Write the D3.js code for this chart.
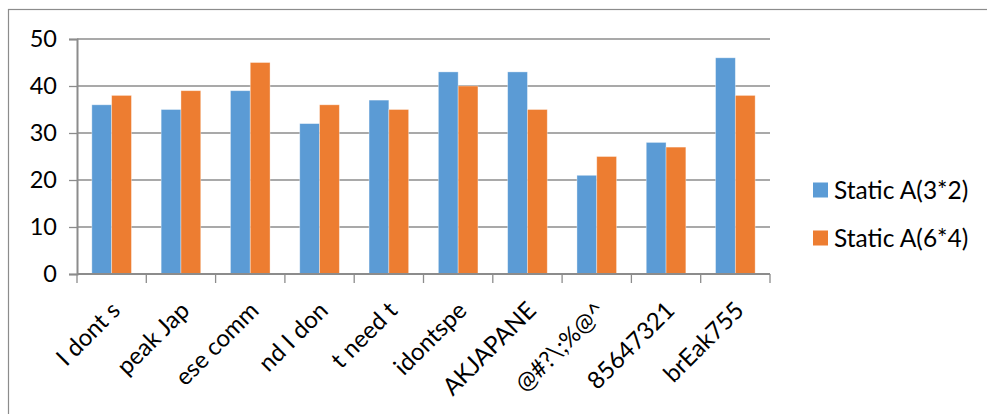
<!DOCTYPE html>
<html>
<head>
<meta charset="utf-8">
<script src="https://cdn.jsdelivr.net/npm/d3@7/dist/d3.min.js"></script>
<style>
  html, body { margin: 0; padding: 0; background: #fff; }
  svg { display: block; }
  text { font-family: Lato, "Open Sans", sans-serif; fill: #000; }
</style>
</head>
<body>
<svg id="chart" width="987" height="414"></svg>
<script>
// Category labels along the x axis
const categories = ["I dont s", "peak Jap", "ese comm", "nd I don", "t need t",
                    "idontspe", "AKJAPANE", "@#?\\;%@^", "85647321", "brEak755"];
// Series names and values
const seriesNames = ["Static A(3*2)", "Static A(6*4)"];
const seriesA = [36, 35, 39, 32, 37, 43, 43, 21, 28, 46];
const seriesB = [38, 39, 45, 36, 35, 40, 35, 25, 27, 38];
const yTicks = [0, 10, 20, 30, 40, 50];
const colors = ["#5B9BD5", "#ED7D31"];

const svg = d3.select("#chart");
const W = 987, H = 414;

// Outer chart frame (extends past the right and bottom edges)
svg.append("rect")
  .attr("x", 8.5).attr("y", 9.5)
  .attr("width", W + 10).attr("height", H + 10)
  .attr("fill", "none").attr("stroke", "#8c8c8c").attr("stroke-width", 1.2);

const plot = { left: 77, right: 770, top: 39, bottom: 274 };

const x = d3.scaleBand().domain(categories).range([plot.left, plot.right]).padding(0);
const y = d3.scaleLinear().domain([0, 50]).range([plot.bottom, plot.top]);

// Horizontal gridlines
svg.append("g").selectAll("line").data(yTicks.filter(d => d > 0)).join("line")
  .attr("x1", plot.left).attr("x2", plot.right)
  .attr("y1", d => y(d)).attr("y2", d => y(d))
  .attr("stroke", "#8c8c8c").attr("stroke-width", 1.3);

// Bars: two series per category, gap width 150%
const inner = d3.scaleBand().domain([0, 1])
  .range([0, x.bandwidth()]).paddingInner(0).paddingOuter(0.75);
const rows = categories.map((c, i) => ({ c, v: [seriesA[i], seriesB[i]] }));
const groups = svg.append("g").selectAll("g").data(rows).join("g")
  .attr("transform", d => `translate(${x(d.c)},0)`);
groups.selectAll("rect").data(d => d.v.map((v, k) => ({ v, k }))).join("rect")
  .attr("x", d => inner(d.k))
  .attr("width", inner.bandwidth())
  .attr("y", d => y(d.v))
  .attr("height", d => y(0) - y(d.v))
  .attr("fill", d => colors[d.k])
  .attr("stroke", "rgba(255,255,255,0.45)").attr("stroke-width", 0.8);

// Y axis
const yAxis = svg.append("g").attr("transform", `translate(${plot.left},0)`)
  .call(d3.axisLeft(y).tickValues(yTicks).tickSize(8).tickPadding(12).tickFormat(d3.format("d")));
yAxis.select(".domain").attr("stroke", "#8c8c8c").attr("stroke-width", 2);
yAxis.selectAll(".tick line").attr("stroke", "#8c8c8c").attr("stroke-width", 1.3);
yAxis.selectAll(".tick text").attr("font-size", 23.5).attr("fill", "#000")
  .attr("font-family", "Lato, sans-serif");

// X axis with ticks at category boundaries
const xAxisG = svg.append("g");
xAxisG.append("line")
  .attr("x1", plot.left).attr("x2", plot.right)
  .attr("y1", plot.bottom).attr("y2", plot.bottom)
  .attr("stroke", "#8c8c8c").attr("stroke-width", 2);
const bounds = categories.map(c => x(c)).concat([plot.right]);
xAxisG.selectAll("line.tk").data(bounds).join("line").attr("class", "tk")
  .attr("x1", d => d).attr("x2", d => d)
  .attr("y1", plot.bottom).attr("y2", plot.bottom + 9)
  .attr("stroke", "#8c8c8c").attr("stroke-width", 1.3);
xAxisG.selectAll("text").data(categories).join("text")
  .attr("transform", d => `translate(${x(d) + x.bandwidth() / 2 + 10},${plot.bottom + 38}) rotate(-45)`)
  .attr("text-anchor", "end")
  .attr("font-size", 24)
  .text(d => d);

// Legend
const legend = svg.append("g").attr("transform", "translate(813,0)");
seriesNames.forEach((name, k) => {
  const cy = 190 + k * 48;
  legend.append("rect").attr("x", 0).attr("y", cy - 7.5)
    .attr("width", 15).attr("height", 15).attr("fill", colors[k]);
  legend.append("text").attr("x", 21).attr("y", cy).attr("dy", "0.35em")
    .attr("font-size", 24.5).text(name);
});
</script>
</body>
</html>
